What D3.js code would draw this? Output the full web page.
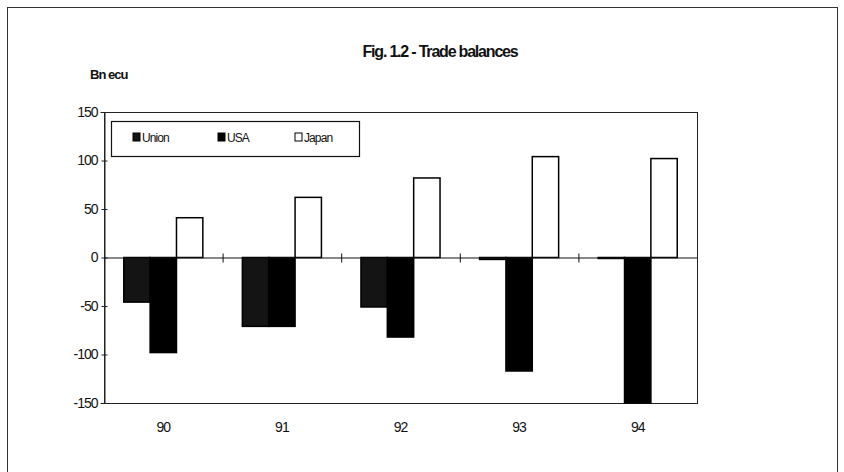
<!DOCTYPE html>
<html>
<head>
<meta charset="utf-8">
<script src="https://cdn.jsdelivr.net/npm/d3@7"></script>
<style>
  body { margin: 0; background: #fff; }
  svg text { font-family: "Liberation Sans Narrow", "Liberation Sans", Arial, sans-serif; fill: #111; }
</style>
</head>
<body>
<svg id="chart" width="844" height="472"></svg>
<script>
var years = ["90", "91", "92", "93", "94"];
var seriesNames = ["Union", "USA", "Japan"];
var unionVals = [-46, -71, -51, -2, -1];
var usaVals = [-98, -71, -82, -117, -150];
var japanVals = [41, 62, 82, 104, 102];
var yTicks = [-150, -100, -50, 0, 50, 100, 150];

var fills = { Union: "#141414", USA: "#000", Japan: "#fff" };

var svg = d3.select("#chart");

// outer frame of the scanned figure
svg.append("rect")
  .attr("x", 7.5).attr("y", 7.5)
  .attr("width", 830).attr("height", 480)
  .attr("fill", "none").attr("stroke", "#333").attr("stroke-width", 1);

svg.append("text")
  .attr("x", 440).attr("y", 57)
  .attr("text-anchor", "middle")
  .style("font-size", "16px").style("font-weight", "bold")
  .style("letter-spacing", "-1.2px")
  .text("Fig. 1.2 - Trade balances");

svg.append("text")
  .attr("x", 90).attr("y", 79)
  .style("font-size", "13px").style("font-weight", "bold")
  .style("letter-spacing", "-1px")
  .text("Bn ecu");

var plotLeft = 104, plotRight = 697, plotTop = 112, plotBottom = 403;

var x0 = d3.scaleBand().domain(years).range([plotLeft, plotRight]);
var x1 = d3.scaleBand().domain(seriesNames).range([0, x0.bandwidth()])
  .paddingInner(0).paddingOuter(0.75);
var y = d3.scaleLinear().domain([-150, 150]).range([plotBottom, plotTop]);

// plot area border
svg.append("rect")
  .attr("x", plotLeft + 0.5).attr("y", plotTop + 0.5)
  .attr("width", plotRight - plotLeft).attr("height", plotBottom - plotTop)
  .attr("fill", "none").attr("stroke", "#222").attr("stroke-width", 1);

var data = [];
years.forEach(function(yr, i) {
  data.push({ year: yr, name: "Union", value: unionVals[i] });
  data.push({ year: yr, name: "USA", value: usaVals[i] });
  data.push({ year: yr, name: "Japan", value: japanVals[i] });
});

svg.append("g").selectAll("rect")
  .data(data)
  .enter().append("rect")
  .attr("x", function(d) { return x0(d.year) + x1(d.name); })
  .attr("width", x1.bandwidth())
  .attr("y", function(d) { return y(Math.max(0, d.value)); })
  .attr("height", function(d) { return Math.abs(y(d.value) - y(0)); })
  .attr("fill", function(d) { return fills[d.name]; })
  .attr("stroke", "#000").attr("stroke-width", 1.5);

// y axis (plain hyphen minus like the original)
var yAxis = d3.axisLeft(y).tickValues(yTicks).tickSize(4)
  .tickFormat(function(d) { return String(d); });
var ya = svg.append("g")
  .attr("transform", "translate(" + (plotLeft + 0.5) + ",0)")
  .call(yAxis);
ya.select(".domain").attr("stroke", "#222");
ya.selectAll(".tick line").attr("stroke", "#222").attr("x2", 3).attr("x1", -3);
ya.selectAll(".tick text")
  .attr("x", -7)
  .style("font-size", "14px").style("letter-spacing", "-1px")
  .style("font-family", "'Liberation Sans Narrow', 'Liberation Sans', Arial, sans-serif")
  .attr("fill", "#111");

// zero line with category ticks
svg.append("line")
  .attr("x1", plotLeft).attr("x2", plotRight)
  .attr("y1", y(0) + 0.5).attr("y2", y(0) + 0.5)
  .attr("stroke", "#111").attr("stroke-width", 1.2);

svg.append("g").selectAll("line")
  .data(years.slice(1))
  .enter().append("line")
  .attr("x1", function(d) { return x0(d) + 0.5; })
  .attr("x2", function(d) { return x0(d) + 0.5; })
  .attr("y1", y(0) - 4).attr("y2", y(0) + 5)
  .attr("stroke", "#111");

// category labels
svg.append("g").selectAll("text")
  .data(years)
  .enter().append("text")
  .attr("x", function(d) { return x0(d) + x0.bandwidth() / 2; })
  .attr("y", 432)
  .attr("text-anchor", "middle")
  .style("font-size", "14px").style("letter-spacing", "-1px")
  .text(function(d) { return d; });

// legend
var legend = svg.append("g");
legend.append("rect")
  .attr("x", 111.5).attr("y", 121.5)
  .attr("width", 248).attr("height", 35)
  .attr("fill", "#fff").attr("stroke", "#111").attr("stroke-width", 1.2);

var legX = [133, 218, 295];
var item = legend.selectAll(".leg")
  .data(seriesNames)
  .enter().append("g")
  .attr("class", "leg")
  .attr("transform", function(d, i) { return "translate(" + legX[i] + ",133)"; });

item.append("rect")
  .attr("width", 7).attr("height", 8)
  .attr("fill", function(d) { return fills[d]; })
  .attr("stroke", "#000").attr("stroke-width", 1);

item.append("text")
  .attr("x", 9).attr("y", 8.5)
  .style("font-size", "12px").style("letter-spacing", "-0.9px")
  .text(function(d) { return d; });
</script>
</body>
</html>
